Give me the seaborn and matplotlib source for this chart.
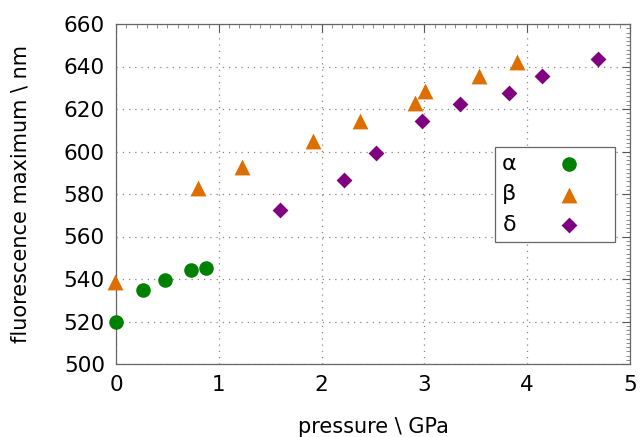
import matplotlib
matplotlib.use("Agg")
import matplotlib.pyplot as plt
from matplotlib.ticker import MultipleLocator
import seaborn as sns
import pandas as pd

alpha_p = [0.0, 0.26, 0.48, 0.73, 0.88]
alpha_f = [520.0, 534.8, 539.5, 544.2, 545.2]
beta_p = [-0.01, 0.80, 1.23, 1.92, 2.37, 2.91, 3.01, 3.53, 3.90]
beta_f = [538.6, 582.8, 592.7, 605.0, 614.4, 622.8, 628.5, 635.5, 642.0]
delta_p = [1.60, 2.22, 2.53, 2.98, 3.35, 3.82, 4.14, 4.69]
delta_f = [572.5, 586.6, 599.3, 614.4, 622.4, 627.5, 635.5, 643.5]
phases = ["α", "β", "δ"]
x_ticks = [0, 1, 2, 3, 4, 5]
y_ticks = [500, 520, 540, 560, 580, 600, 620, 640, 660]

df = pd.DataFrame({
    "p": alpha_p + beta_p + delta_p,
    "f": alpha_f + beta_f + delta_f,
    "phase": [phases[0]] * len(alpha_p) + [phases[1]] * len(beta_p) + [phases[2]] * len(delta_p),
})

sns.set_style("white")
plt.rcParams["font.family"] = ["DejaVu Sans"]
plt.rcParams["text.color"] = "black"
plt.rcParams["axes.labelcolor"] = "black"
plt.rcParams["xtick.color"] = "black"
plt.rcParams["ytick.color"] = "black"

fig = plt.figure(figsize=(6.41, 4.37), dpi=100)
ax = fig.add_axes([116 / 641, 1 - 364 / 437, 514 / 641, 340 / 437])

palette = {"α": "#008000", "β": "#dd6f00", "δ": "#800080"}
markers = {"α": "o", "β": "^", "δ": "D"}
sizes = {"α": 110, "β": 130, "δ": 65}
for ph in phases:
    sub = df[df["phase"] == ph]
    sns.scatterplot(data=sub, x="p", y="f", ax=ax, color=palette[ph],
                    marker=markers[ph], s=sizes[ph], linewidth=0, label=ph,
                    zorder=3, clip_on=False)

ax.set_xlim(0, 5)
ax.set_ylim(500, 660)
ax.set_xticks(x_ticks)
ax.set_yticks(y_ticks)
ax.xaxis.set_minor_locator(MultipleLocator(0.1))
ax.yaxis.set_minor_locator(MultipleLocator(2))
ax.tick_params(which="major", direction="in", length=6, width=0.8, color="#555555",
               labelcolor="black", labelsize=15.5, top=True, right=True, pad=8)
ax.tick_params(which="minor", direction="in", length=3, width=0.6, color="#777777",
               top=True, right=True)
ax.grid(True, which="major", linestyle=(0, (1, 4)), color="#888888", linewidth=0.9)
for s in ax.spines.values():
    s.set_color("#666666")
    s.set_linewidth(0.9)

ax.set_xlabel("pressure \\ GPa", fontsize=15, labelpad=16, color="black")
ax.set_ylabel("fluorescence maximum \\ nm", fontsize=15, labelpad=24, color="black")

leg = ax.legend(loc="upper left", bbox_to_anchor=(0.737, 0.638), markerfirst=False,
                fontsize=16, frameon=True, fancybox=False, framealpha=1,
                edgecolor="#666666", handletextpad=0.64, borderpad=0.3,
                labelspacing=0.48, borderaxespad=0, handlelength=3.5)
leg.get_frame().set_linewidth(0.9)
for t in leg.get_texts():
    t.set_color("black")

fig.savefig("out.png", dpi=100)
